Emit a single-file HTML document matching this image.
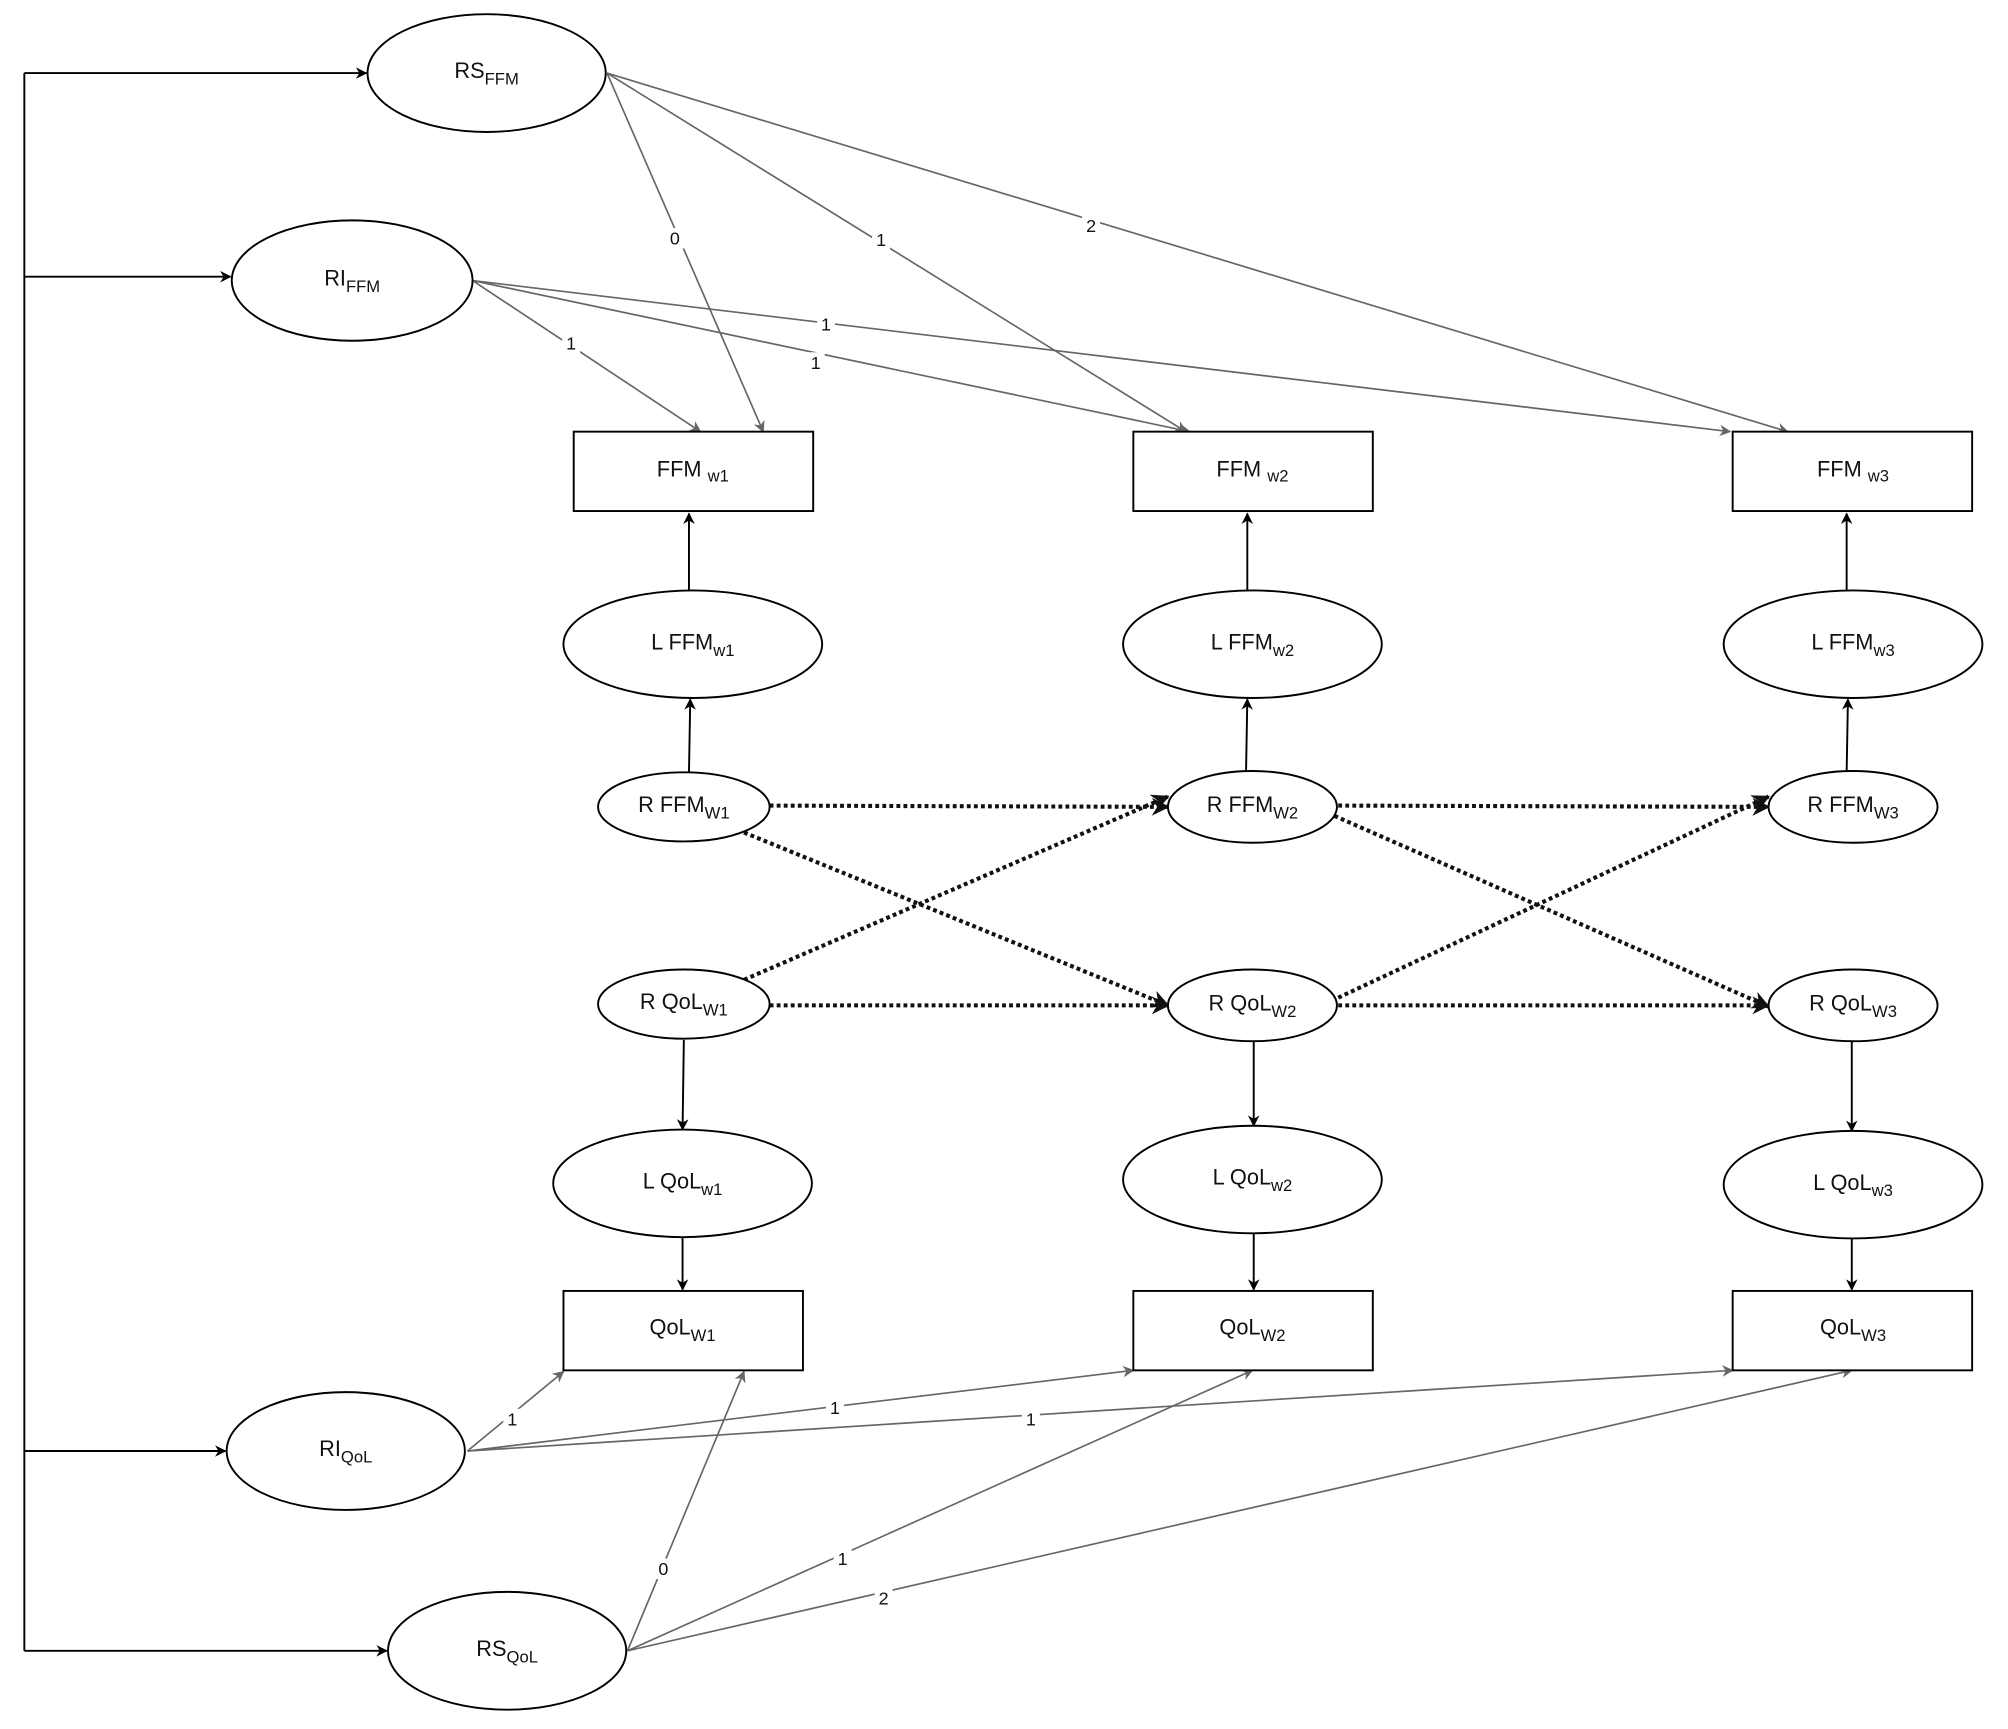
<!DOCTYPE html>
<html><head><meta charset="utf-8"><style>
html,body{margin:0;padding:0;background:#fff;}
svg{display:block;}
text{font-family:"Liberation Sans",sans-serif;fill:#111;}
</style></head><body>
<svg width="2008" height="1729" viewBox="0 0 1568 1350" xmlns="http://www.w3.org/2000/svg">
<defs>
<marker id="ab" viewBox="0 0 10 10" refX="9" refY="5" markerWidth="9" markerHeight="9" orient="auto" markerUnits="userSpaceOnUse"><path d="M0,0 L10,5 L0,10 L3,5 Z" fill="#000"/></marker>
<marker id="ag" viewBox="0 0 10 10" refX="9" refY="5" markerWidth="9" markerHeight="9" orient="auto" markerUnits="userSpaceOnUse"><path d="M0,0 L10,5 L0,10 L3,5 Z" fill="#666"/></marker>
<marker id="ad" viewBox="0 0 10 10" refX="9" refY="5" markerWidth="14" markerHeight="14" orient="auto" markerUnits="userSpaceOnUse"><path d="M0,0 L10,5 L0,10 L3,5 Z" fill="#111"/></marker>
</defs>
<g stroke="#000" stroke-width="1.5" fill="none">
<path d="M19,57 V1289"/>
<line x1="19" y1="57" x2="286" y2="57" marker-end="url(#ab)"/>
<line x1="19" y1="216" x2="180" y2="216" marker-end="url(#ab)"/>
<line x1="19" y1="1133" x2="176" y2="1133" marker-end="url(#ab)"/>
<line x1="19" y1="1289" x2="302" y2="1289" marker-end="url(#ab)"/>
</g>
<!-- gray lines -->
<g stroke="#666" stroke-width="1.3" fill="none" marker-end="url(#ag)">
<line x1="474" y1="57" x2="596" y2="337"/>
<line x1="474" y1="57" x2="926" y2="337"/>
<line x1="474" y1="57" x2="1396" y2="337"/>
<line x1="369" y1="219" x2="547" y2="337"/>
<line x1="369" y1="219" x2="929" y2="337"/>
<line x1="369" y1="219" x2="1351" y2="337"/>
<line x1="365" y1="1133" x2="440" y2="1071"/>
<line x1="365" y1="1133" x2="885" y2="1070"/>
<line x1="365" y1="1133" x2="1353" y2="1070"/>
<line x1="490" y1="1289" x2="581" y2="1071"/>
<line x1="490" y1="1289" x2="978" y2="1070"/>
<line x1="490" y1="1289" x2="1446" y2="1070"/>
</g>
<g font-size="14" text-anchor="middle">
<rect x="520" y="178" width="14" height="16" fill="#fff"/><text x="527" y="191">0</text>
<rect x="681" y="179" width="14" height="16" fill="#fff"/><text x="688" y="192">1</text>
<rect x="845" y="168" width="14" height="16" fill="#fff"/><text x="852" y="181">2</text>
<rect x="439" y="260" width="14" height="16" fill="#fff"/><text x="446" y="273">1</text>
<rect x="630" y="275" width="14" height="16" fill="#fff"/><text x="637" y="288">1</text>
<rect x="638" y="245" width="14" height="16" fill="#fff"/><text x="645" y="258">1</text>
<rect x="393" y="1100" width="14" height="16" fill="#fff"/><text x="400" y="1113">1</text>
<rect x="645" y="1091" width="14" height="16" fill="#fff"/><text x="652" y="1104">1</text>
<rect x="798" y="1100" width="14" height="16" fill="#fff"/><text x="805" y="1113">1</text>
<rect x="511" y="1217" width="14" height="16" fill="#fff"/><text x="518" y="1230">0</text>
<rect x="651" y="1209" width="14" height="16" fill="#fff"/><text x="658" y="1222">1</text>
<rect x="683" y="1240" width="14" height="16" fill="#fff"/><text x="690" y="1253">2</text>
</g>
<!-- black vertical arrows -->
<g stroke="#000" stroke-width="1.5" fill="none" marker-end="url(#ab)">
<line x1="538" y1="462" x2="538" y2="401"/>
<line x1="538" y1="603" x2="539" y2="546"/>
<line x1="974" y1="462" x2="974" y2="401"/>
<line x1="973" y1="603" x2="974" y2="546"/>
<line x1="1442" y1="462" x2="1442" y2="401"/>
<line x1="1442" y1="603" x2="1443" y2="546"/>
<line x1="534" y1="812" x2="533" y2="882"/>
<line x1="533" y1="966" x2="533" y2="1007"/>
<line x1="979" y1="813" x2="979" y2="879"/>
<line x1="979" y1="963" x2="979" y2="1007"/>
<line x1="1446" y1="813" x2="1446" y2="883"/>
<line x1="1446" y1="967" x2="1446" y2="1007"/>
</g>
<!-- dotted -->
<g stroke="#111" stroke-width="3.2" stroke-dasharray="3,2.5" fill="none" marker-end="url(#ad)">
<line x1="601" y1="629" x2="912" y2="630"/>
<line x1="581" y1="650" x2="912" y2="785"/>
<line x1="581" y1="765" x2="912" y2="622"/>
<line x1="601" y1="785" x2="912" y2="785"/>
<line x1="1045" y1="629" x2="1381" y2="630"/>
<line x1="1042" y1="637" x2="1381" y2="786"/>
<line x1="1045" y1="785" x2="1381" y2="785"/>
<line x1="1045" y1="779" x2="1381" y2="622"/>
</g>
<!-- nodes -->
<g stroke="#000" stroke-width="1.5" fill="#fff">
<ellipse cx="380" cy="57" rx="93" ry="46"/>
<ellipse cx="275" cy="219" rx="94" ry="47"/>
<ellipse cx="270" cy="1133" rx="93" ry="46"/>
<ellipse cx="396" cy="1289" rx="93" ry="46"/>
<rect x="448" y="337" width="187" height="62"/>
<rect x="885" y="337" width="187" height="62"/>
<rect x="1353" y="337" width="187" height="62"/>
<ellipse cx="541" cy="503" rx="101" ry="42"/>
<ellipse cx="978" cy="503" rx="101" ry="42"/>
<ellipse cx="1447" cy="503" rx="101" ry="42"/>
<ellipse cx="534" cy="630" rx="67" ry="27"/>
<ellipse cx="978" cy="630" rx="66" ry="28"/>
<ellipse cx="1447" cy="630" rx="66" ry="28"/>
<ellipse cx="534" cy="784" rx="67" ry="27"/>
<ellipse cx="978" cy="785" rx="66" ry="28"/>
<ellipse cx="1447" cy="785" rx="66" ry="28"/>
<ellipse cx="533" cy="924" rx="101" ry="42"/>
<ellipse cx="978" cy="921" rx="101" ry="42"/>
<ellipse cx="1447" cy="925" rx="101" ry="42"/>
<rect x="440" y="1008" width="187" height="62"/>
<rect x="885" y="1008" width="187" height="62"/>
<rect x="1353" y="1008" width="187" height="62"/>
</g>
<g font-size="17" text-anchor="middle">
<text x="380" y="61">RS<tspan font-size="13" dy="5">FFM</tspan></text>
<text x="275" y="223">RI<tspan font-size="13" dy="5">FFM</tspan></text>
<text x="270" y="1137">RI<tspan font-size="13" dy="5">QoL</tspan></text>
<text x="396" y="1293">RS<tspan font-size="13" dy="5">QoL</tspan></text>
<text x="541" y="372">FFM <tspan font-size="13" dy="4">w1</tspan></text>
<text x="978" y="372">FFM <tspan font-size="13" dy="4">w2</tspan></text>
<text x="1447" y="372">FFM <tspan font-size="13" dy="4">w3</tspan></text>
<text x="541" y="507">L FFM<tspan font-size="13" dy="5">w1</tspan></text>
<text x="978" y="507">L FFM<tspan font-size="13" dy="5">w2</tspan></text>
<text x="1447" y="507">L FFM<tspan font-size="13" dy="5">w3</tspan></text>
<text x="534" y="634">R FFM<tspan font-size="13" dy="5">W1</tspan></text>
<text x="978" y="634">R FFM<tspan font-size="13" dy="5">W2</tspan></text>
<text x="1447" y="634">R FFM<tspan font-size="13" dy="5">W3</tspan></text>
<text x="534" y="788">R QoL<tspan font-size="13" dy="5">W1</tspan></text>
<text x="978" y="789">R QoL<tspan font-size="13" dy="5">W2</tspan></text>
<text x="1447" y="789">R QoL<tspan font-size="13" dy="5">W3</tspan></text>
<text x="533" y="928">L QoL<tspan font-size="13" dy="5">w1</tspan></text>
<text x="978" y="925">L QoL<tspan font-size="13" dy="5">w2</tspan></text>
<text x="1447" y="929">L QoL<tspan font-size="13" dy="5">w3</tspan></text>
<text x="533" y="1042">QoL<tspan font-size="13" dy="5">W1</tspan></text>
<text x="978" y="1042">QoL<tspan font-size="13" dy="5">W2</tspan></text>
<text x="1447" y="1042">QoL<tspan font-size="13" dy="5">W3</tspan></text>
</g>
</svg>
</body></html>
